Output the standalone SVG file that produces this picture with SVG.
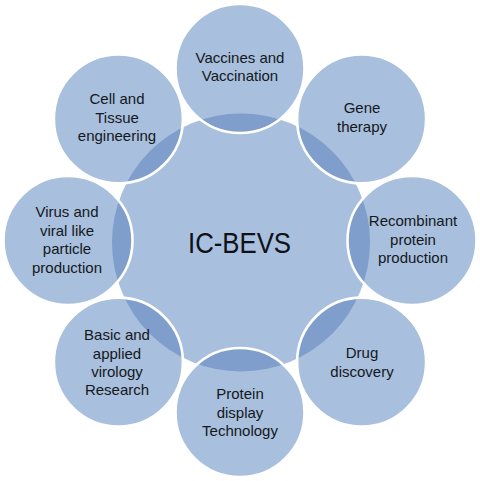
<svg xmlns="http://www.w3.org/2000/svg" width="480" height="481" viewBox="0 0 480 481">
  <style>
    .light { fill: #A8BFDD; }
    .lens { fill: #7F9ECB; }
    .rim { fill: none; stroke: #FFFFFF; stroke-width: 2.6; }
    .lbl { font-family: "Liberation Sans", Arial, sans-serif; font-size: 15px; fill: #141820; text-anchor: middle; }
    .main { font-family: "Liberation Sans", Arial, sans-serif; font-size: 30px; fill: #0E1118; text-anchor: middle; }
  </style>
  <defs>
    <clipPath id="centralClip">
      <circle cx="241" cy="242.5" r="129"/>
    </clipPath>
  </defs>
  <rect width="480" height="481" fill="#FFFFFF"/>

  <g id="central">
    <circle class="light" cx="241" cy="242.5" r="129"/>
  </g>

  <g id="connectors"></g>

  <g id="vaccines">
    <circle class="light" cx="240" cy="68.5" r="64.5"/>
    <circle class="lens" cx="240" cy="68.5" r="64.5" clip-path="url(#centralClip)"/>
    <circle class="rim" cx="240" cy="68.5" r="64.5"/>
    <text class="lbl" x="240" y="62.7">Vaccines and</text>
    <text class="lbl" x="240" y="81">Vaccination</text>
  </g>

  <g id="gene">
    <circle class="light" cx="361.6" cy="118.9" r="64.5"/>
    <circle class="lens" cx="361.6" cy="118.9" r="64.5" clip-path="url(#centralClip)"/>
    <circle class="rim" cx="361.6" cy="118.9" r="64.5"/>
    <text class="lbl" x="362" y="113">Gene</text>
    <text class="lbl" x="362" y="131.5">therapy</text>
  </g>

  <g id="recombinant">
    <circle class="light" cx="412" cy="240.5" r="64.5"/>
    <circle class="lens" cx="412" cy="240.5" r="64.5" clip-path="url(#centralClip)"/>
    <circle class="rim" cx="412" cy="240.5" r="64.5"/>
    <text class="lbl" x="413" y="226">Recombinant</text>
    <text class="lbl" x="413" y="244.5">protein</text>
    <text class="lbl" x="413" y="263">production</text>
  </g>

  <g id="drug">
    <circle class="light" cx="361.6" cy="362.1" r="64.5"/>
    <circle class="lens" cx="361.6" cy="362.1" r="64.5" clip-path="url(#centralClip)"/>
    <circle class="rim" cx="361.6" cy="362.1" r="64.5"/>
    <text class="lbl" x="362" y="358">Drug</text>
    <text class="lbl" x="362" y="376.5">discovery</text>
  </g>

  <g id="protein">
    <circle class="light" cx="240" cy="412.5" r="64.5"/>
    <circle class="lens" cx="240" cy="412.5" r="64.5" clip-path="url(#centralClip)"/>
    <circle class="rim" cx="240" cy="412.5" r="64.5"/>
    <text class="lbl" x="240" y="399.3">Protein</text>
    <text class="lbl" x="240" y="417.6">display</text>
    <text class="lbl" x="240" y="436">Technology</text>
  </g>

  <g id="basic">
    <circle class="light" cx="118.4" cy="362.1" r="64.5"/>
    <circle class="lens" cx="118.4" cy="362.1" r="64.5" clip-path="url(#centralClip)"/>
    <circle class="rim" cx="118.4" cy="362.1" r="64.5"/>
    <text class="lbl" x="117" y="340">Basic and</text>
    <text class="lbl" x="117" y="358.5">applied</text>
    <text class="lbl" x="117" y="377">virology</text>
    <text class="lbl" x="117" y="395">Research</text>
  </g>

  <g id="virus">
    <circle class="light" cx="68" cy="240.5" r="64.5"/>
    <circle class="lens" cx="68" cy="240.5" r="64.5" clip-path="url(#centralClip)"/>
    <circle class="rim" cx="68" cy="240.5" r="64.5"/>
    <text class="lbl" x="67" y="217">Virus and</text>
    <text class="lbl" x="67" y="235.5">viral like</text>
    <text class="lbl" x="67" y="254">particle</text>
    <text class="lbl" x="67" y="272.5">production</text>
  </g>

  <g id="cell">
    <circle class="light" cx="118.4" cy="118.9" r="64.5"/>
    <circle class="lens" cx="118.4" cy="118.9" r="64.5" clip-path="url(#centralClip)"/>
    <circle class="rim" cx="118.4" cy="118.9" r="64.5"/>
    <text class="lbl" x="117" y="104">Cell and</text>
    <text class="lbl" x="117" y="122.5">Tissue</text>
    <text class="lbl" x="117" y="141">engineering</text>
  </g>

  <g id="central-label">
    <text class="main" x="239.5" y="253" textLength="103" lengthAdjust="spacingAndGlyphs">IC-BEVS</text>
  </g>
</svg>
